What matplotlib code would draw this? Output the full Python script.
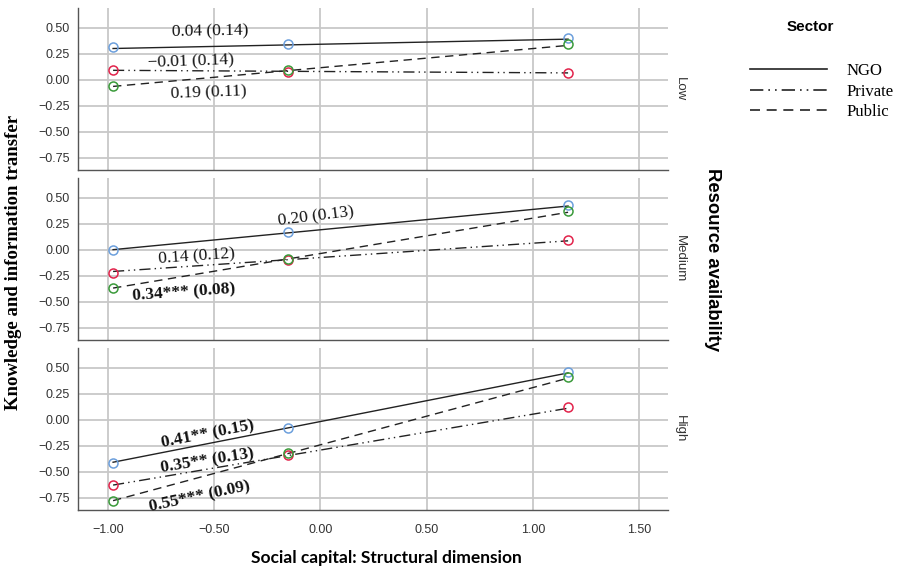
import matplotlib
matplotlib.use("Agg")
import matplotlib.pyplot as plt
from matplotlib.lines import Line2D

# ---------------- data ----------------
levels = ["Low", "Medium", "High"]
sectors = ["NGO", "Private", "Public"]
x_points = [-0.975, -0.15, 1.165]

# observed points (circles) per level, per sector
pts_low = {"NGO": [0.31, 0.34, 0.40], "Private": [0.09, 0.07, 0.06], "Public": [-0.065, 0.09, 0.34]}
pts_medium = {"NGO": [0.00, 0.17, 0.43], "Private": [-0.22, -0.10, 0.09], "Public": [-0.37, -0.09, 0.37]}
pts_high = {"NGO": [-0.42, -0.08, 0.46], "Private": [-0.63, -0.34, 0.12], "Public": [-0.78, -0.32, 0.41]}

# fitted line endpoints (at x_points[0] and x_points[-1])
fit_low = {"NGO": [0.30, 0.39], "Private": [0.09, 0.065], "Public": [-0.065, 0.33]}
fit_medium = {"NGO": [0.00, 0.42], "Private": [-0.21, 0.085], "Public": [-0.37, 0.36]}
fit_high = {"NGO": [-0.41, 0.45], "Private": [-0.63, 0.11], "Public": [-0.78, 0.40]}

# slope annotations: text, x, y, rotation, bold
ann_low = [("0.04 (0.14)", -0.52, 0.46, 1, False),
           ("\u22120.01 (0.14)", -0.61, 0.17, 2, False),
           ("0.19 (0.11)", -0.525, -0.125, 2, False)]
ann_medium = [("0.20 (0.13)", -0.02, 0.32, 7, False),
              ("0.14 (0.12)", -0.58, -0.07, 4, False),
              ("0.34*** (0.08)", -0.64, -0.42, 4, True)]
ann_high = [("0.41** (0.15)", -0.53, -0.14, 11, True),
            ("0.35** (0.13)", -0.53, -0.40, 9, True),
            ("0.55*** (0.09)", -0.57, -0.74, 12, True)]

xticks = [-1.0, -0.5, 0.0, 0.5, 1.0, 1.5]
yticks = [0.5, 0.25, 0.0, -0.25, -0.5, -0.75]

# ---------------- style ----------------
colors = {"NGO": "#6c9fdc", "Private": "#e2234b", "Public": "#3a9a3a"}
styles = {"NGO": "-", "Private": (0, (8, 3, 1, 3, 1, 3)), "Public": (0, (6, 4))}
serif = "Liberation Serif"
sans = "Liberation Sans"

fig = plt.figure(figsize=(8.99, 5.67), dpi=100)

left, width = 78 / 899, 590 / 899
panel_px = [(8, 170), (178, 340), (348, 510)]

all_pts = [pts_low, pts_medium, pts_high]
all_fit = [fit_low, fit_medium, fit_high]
all_ann = [ann_low, ann_medium, ann_high]

axes = []
for i, (top, bot) in enumerate(panel_px):
    ax = fig.add_axes([left, 1 - bot / 567, width, (bot - top) / 567])
    axes.append(ax)
    ax.set_xlim(-1.14, 1.635)
    ax.set_ylim(-0.87, 0.69)
    ax.set_xticks(xticks)
    ax.set_yticks(yticks)
    ax.grid(True, color="#c8c8c8", lw=1.3)
    ax.set_axisbelow(True)
    for s in ["top", "right"]:
        ax.spines[s].set_visible(False)
    for s in ["left", "bottom"]:
        ax.spines[s].set_color("#555555")
        ax.spines[s].set_linewidth(1.0)
    ax.tick_params(length=0, labelsize=9, colors="#333333", pad=6)
    ax.set_yticklabels([f"{v:.2f}".replace("-", "\u2212") for v in yticks], family=sans)
    if i < 2:
        ax.set_xticklabels([])
    else:
        ax.set_xticklabels([f"{v:.2f}".replace("-", "\u2212") for v in xticks], family=sans)
        ax.tick_params(axis="x", pad=10)

    for sec in sectors:
        ax.plot([x_points[0], x_points[-1]], all_fit[i][sec], color="#222222",
                lw=1.0, linestyle=styles[sec], zorder=3)
        ax.plot(x_points, all_pts[i][sec], linestyle="none", marker="o", ms=6.5,
                mfc="none", mec=colors[sec], mew=1.1, zorder=4)
    for txt, tx, ty, rot, bold in all_ann[i]:
        ax.text(tx, ty, txt, ha="center", va="center", rotation=rot,
                rotation_mode="anchor", family=serif, fontsize=12.5,
                fontweight="bold" if bold else "normal", color="#111111", zorder=5)
    ax.text(1.02, 0.5, levels[i], transform=ax.transAxes, rotation=-90,
            ha="center", va="center", family=sans, fontsize=9.5, color="#333333")

fig.text(14 / 899, 1 - 262 / 567, "Knowledge and information transfer", rotation=90,
         ha="center", va="center", family=serif, fontsize=13.5, fontweight="bold")
fig.text(712 / 899, 1 - 260 / 567, "Resource availability", rotation=-90,
         ha="center", va="center", family=sans, fontsize=13.3, fontweight="bold")
fig.text(386 / 899, 1 - 558 / 567, "Social capital: Structural dimension",
         ha="center", va="center", family="Lato", fontsize=12.5, fontweight="bold")

# legend
handles = [Line2D([0], [0], color="#222222", lw=1.2, linestyle=styles[s]) for s in sectors]
fig.text(810 / 899, 1 - 27 / 567, "Sector", ha="center", va="center",
         family=sans, fontsize=11, fontweight="bold")
leg = fig.legend(handles, sectors, loc="upper left", bbox_to_anchor=(742 / 899, 1 - 55 / 567),
                 frameon=False, prop={"family": serif, "size": 12}, handlelength=4.6,
                 handletextpad=1.2, labelspacing=0.25, borderpad=0)

fig.savefig("out.png", dpi=100)
